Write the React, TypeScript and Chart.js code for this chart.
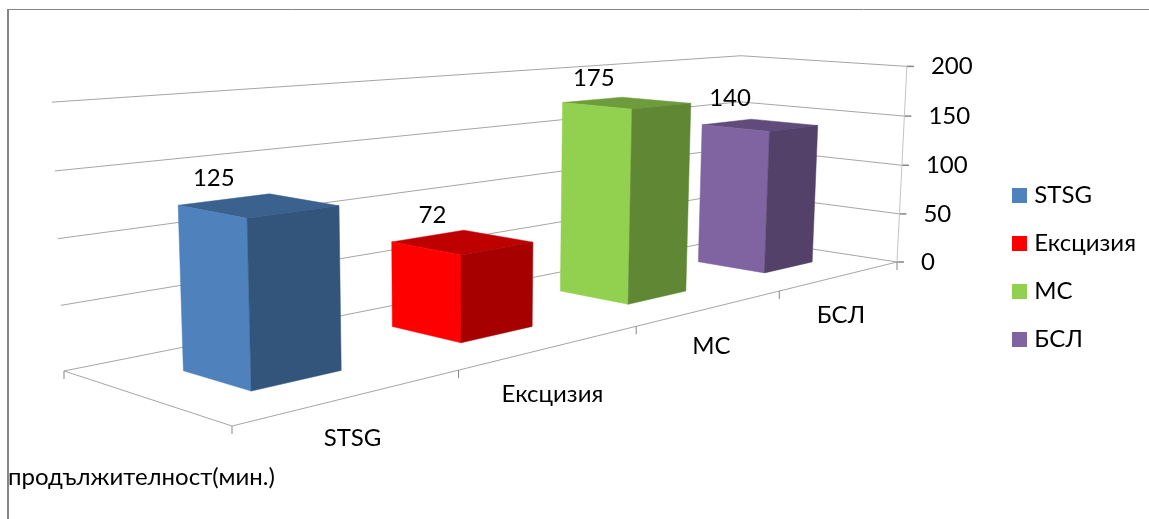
import React, { useEffect, useRef } from "react";
import { Chart, registerables } from "chart.js";

Chart.register(...registerables);

// Operation length per procedure
const categories = ["STSG", "Ексцизия", "МС", "БСЛ"];
const durations = [125, 72, 175, 140];
const barColors = ["#4f81bd", "#ff0000", "#92d050", "#8064a2"];
const yAxisMax = 200;
const yAxisStep = 50;
const axisTitle = "продължителност(мин.)";

const WIDTH = 1149;
const HEIGHT = 519;
const FONT = "Lato, 'Open Sans', sans-serif";
const FONT_PX = 24;

// Perspective camera: maps (u along categories, v along depth, z up), all 0..1, to the canvas
const cam = {
  a: 1158.35, b: -160.1, c: 232, ex: -15.5,
  d: -19.9, e: -9.2, f: 426, ey: -305.5,
  g: 0.55, h: 0.1235, k: -0.034,
};
const project = (u: number, v: number, z: number): [number, number] => {
  const w = cam.g * u + cam.h * v + 1 + cam.k * z;
  return [
    (cam.a * u + cam.b * v + cam.c + cam.ex * z) / w,
    (cam.d * u + cam.e * v + cam.f + cam.ey * z) / w,
  ];
};

// Depth span of each column inside the floor
const DEPTH_NEAR = 0.3;
const DEPTH_FAR = 0.7;

// Label offsets from their anchor points on the floor and column tops
const valueLabelDx = [-45, -30, -33, -30];
const valueLabelDy = [-27, -27, -25, -27];
const categoryLabelDy = [42, 47, 38, 39];

const shade = (hex: string, f: number) => {
  const n = parseInt(hex.slice(1), 16);
  const r = Math.round(((n >> 16) & 255) * f);
  const g = Math.round(((n >> 8) & 255) * f);
  const b = Math.round((n & 255) * f);
  return `rgb(${r},${g},${b})`;
};

const polygon = (ctx: CanvasRenderingContext2D, pts: [number, number][], fill: string) => {
  ctx.beginPath();
  pts.forEach(([x, y], i) => (i ? ctx.lineTo(x, y) : ctx.moveTo(x, y)));
  ctx.closePath();
  ctx.fillStyle = fill;
  ctx.fill();
  ctx.strokeStyle = fill;
  ctx.lineWidth = 0.5;
  ctx.stroke();
};

const line = (
  ctx: CanvasRenderingContext2D,
  from: [number, number],
  to: [number, number],
  color: string,
  width = 1,
) => {
  ctx.beginPath();
  ctx.moveTo(from[0], from[1]);
  ctx.lineTo(to[0], to[1]);
  ctx.strokeStyle = color;
  ctx.lineWidth = width;
  ctx.stroke();
};

const GRID = "#a6a6a6";
const TICK = "#868686";

// Legend swatch wider than its slot so the label sits close to it
const SWATCH = 15;
const swatch = (color: string) => {
  const c = document.createElement("canvas");
  c.width = SWATCH;
  c.height = SWATCH;
  const g = c.getContext("2d") as CanvasRenderingContext2D;
  g.fillStyle = color;
  g.fillRect(0, 0, SWATCH, SWATCH);
  return c;
};

const box3d = {
  id: "box3d",
  beforeDraw(chart: any) {
    const { ctx } = chart;
    ctx.save();
    // Outer frame, open at the right and bottom
    ctx.fillStyle = "#ffffff";
    ctx.fillRect(0, 0, WIDTH, HEIGHT);
    line(ctx, [8, 9], [8, HEIGHT], TICK, 2);
    line(ctx, [7, 9.5], [WIDTH, 9.5], TICK, 1);
    ctx.restore();
  },
  beforeDatasetsDraw(chart: any) {
    const { ctx, chartArea, scales } = chart;
    const xs = scales.x;
    const ys = scales.y;
    const heightOf = (px: number) => (chartArea.bottom - px) / (chartArea.bottom - chartArea.top);
    const uOf = (px: number) => (px - chartArea.left) / (chartArea.right - chartArea.left);

    ctx.save();
    // Gridlines along the two walls, with value ticks at the right
    ys.ticks.forEach((t: any) => {
      const z = heightOf(ys.getPixelForValue(t.value));
      line(ctx, project(0, 1, z), project(1, 1, z), GRID);
      line(ctx, project(1, 1, z), project(1, 0, z), GRID);
      const p = project(1, 0, z);
      line(ctx, p, [p[0] + 7, p[1]], TICK, 1.5);
    });
    line(ctx, project(1, 0, 0), project(1, 0, 1), "#c4c4c4");

    // Floor outline and category ticks
    line(ctx, project(0, 0, 0), project(1, 0, 0), GRID);
    line(ctx, project(0, 0, 0), project(0, 1, 0), GRID);
    const back = project(0, 1, 0);
    line(ctx, back, [back[0], back[1] + 8], TICK);
    categories.forEach((_, i) => {
      const edge = xs.getPixelForValue(i) - xs.width / categories.length / 2;
      const p = project(uOf(edge), 0, 0);
      line(ctx, p, [p[0], p[1] + 8], TICK);
    });
    const end = project(1, 0, 0);
    line(ctx, end, [end[0], end[1] + 8], TICK);

    // Columns, far ones first
    const bars = chart.getDatasetMeta(0).data;
    for (let i = bars.length - 1; i >= 0; i--) {
      const bar = bars[i];
      const u0 = uOf(bar.x - bar.width / 2);
      const u1 = uOf(bar.x + bar.width / 2);
      const z = heightOf(bar.y);
      const color = barColors[i];
      const n = DEPTH_NEAR;
      const f = DEPTH_FAR;
      polygon(ctx, [project(u0, n, z), project(u1, n, z), project(u1, f, z), project(u0, f, z)], shade(color, 0.75));
      polygon(ctx, [project(u0, f, 0), project(u0, n, 0), project(u0, n, z), project(u0, f, z)], color);
      polygon(ctx, [project(u0, n, 0), project(u1, n, 0), project(u1, n, z), project(u0, n, z)], shade(color, 0.65));
    }

    // Texts
    ctx.fillStyle = "#000000";
    ctx.font = `${FONT_PX}px ${FONT}`;
    ctx.textBaseline = "middle";
    ctx.textAlign = "left";
    ys.ticks.forEach((t: any) => {
      const z = heightOf(ys.getPixelForValue(t.value));
      const p = project(1, 0, z);
      ctx.fillText(String(t.value), p[0] + 24, p[1]);
    });
    ctx.fillText(axisTitle, 8, 477);
    ctx.textAlign = "center";
    categories.forEach((label, i) => {
      const p = project(uOf(xs.getPixelForValue(i)), 0, 0);
      ctx.fillText(label, p[0], p[1] + categoryLabelDy[i]);
    });
    durations.forEach((value, i) => {
      const bar = bars[i];
      const p = project(uOf(bar.x), 0.5, heightOf(bar.y));
      ctx.fillText(String(value), p[0] + valueLabelDx[i], p[1] + valueLabelDy[i]);
    });
    ctx.restore();
  },
  // The columns above replace the flat rectangles
  beforeDatasetDraw() {
    return false;
  },
};

export default function App() {
  const ref = useRef<HTMLCanvasElement>(null);

  useEffect(() => {
    const chart = new Chart(ref.current as HTMLCanvasElement, {
      type: "bar",
      data: {
        labels: categories,
        datasets: [
          {
            data: durations,
            backgroundColor: barColors,
            categoryPercentage: 1,
            barPercentage: 0.4,
          },
        ],
      },
      options: {
        animation: false,
        responsive: false,
        devicePixelRatio: 1,
        layout: { padding: { right: 3, top: 15 } },
        scales: {
          x: { display: false },
          y: { display: false, min: 0, max: yAxisMax, ticks: { stepSize: yAxisStep } },
        },
        plugins: {
          tooltip: { enabled: false },
          legend: {
            position: "right",
            onClick: () => {},
            labels: {
              usePointStyle: true,
              pointStyleWidth: 5,
              boxHeight: 15,
              padding: 24,
              color: "#000000",
              font: { family: FONT, size: FONT_PX },
              generateLabels: () =>
                categories.map((text, i) => ({
                  text,
                  fillStyle: barColors[i],
                  strokeStyle: barColors[i],
                  pointStyle: swatch(barColors[i]),
                  lineWidth: 0,
                  hidden: false,
                  index: i,
                })),
            },
          },
        },
      },
      plugins: [box3d],
    } as any);
    return () => chart.destroy();
  }, []);

  return (
    <div style={{ position: "fixed", left: 0, top: 0, width: WIDTH, height: HEIGHT }}>
      <canvas ref={ref} width={WIDTH} height={HEIGHT} style={{ display: "block" }} />
    </div>
  );
}
